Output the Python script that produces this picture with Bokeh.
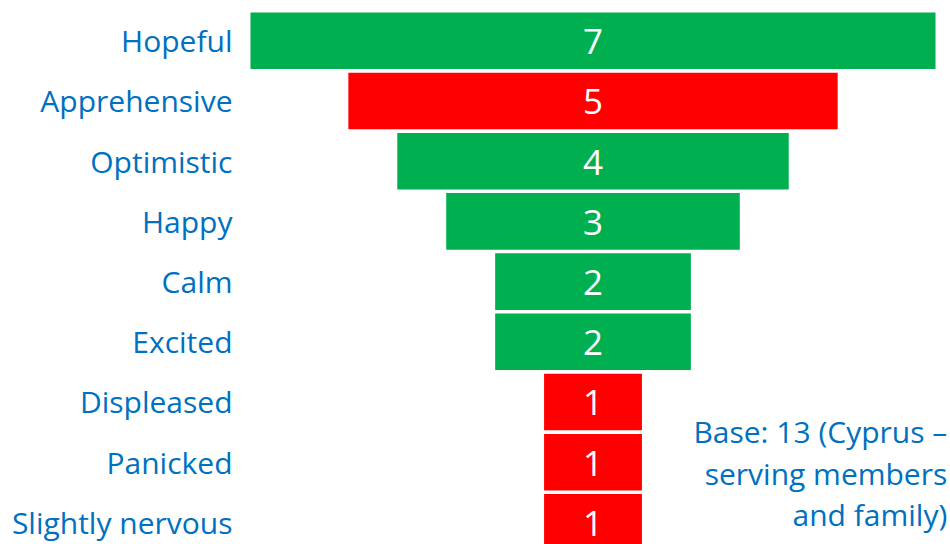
from bokeh.plotting import figure
from bokeh.models import ColumnDataSource, FixedTicker, Range1d
from bokeh.core.properties import value
from bokeh.embed import file_html
from bokeh.resources import INLINE

# ---- data ----
categories = ["Hopeful", "Apprehensive", "Optimistic", "Happy", "Calm",
              "Excited", "Displeased", "Panicked", "Slightly nervous"]
counts = [7, 5, 4, 3, 2, 2, 1, 1, 1]
tone = ["positive", "negative", "positive", "positive", "positive",
        "positive", "negative", "negative", "negative"]
note_lines = ["Base: 13 (Cyprus \u2013", "serving members", "and family)"]

# ---- styles ----
TONE_COLORS = {"positive": "#00B050", "negative": "#FF0000"}
BLUE = "#0070C0"
FONT = "Open Sans"

pos = list(range(len(categories)))
src = ColumnDataSource(dict(
    y=pos,
    left=[-c / 2 for c in counts],
    right=[c / 2 for c in counts],
    label=[str(c) for c in counts],
    zero=[0] * len(counts),
    color=[TONE_COLORS[t] for t in tone],
))

p = figure(width=950, height=544, output_backend="svg", toolbar_location=None,
           x_range=Range1d(-3.602, 3.653), y_range=Range1d(8.367, -0.669),
           x_axis_type=None, min_border_left=240, min_border_right=0,
           min_border_top=0, min_border_bottom=0)
p.outline_line_color = None
p.xgrid.visible = False
p.ygrid.visible = False
p.background_fill_color = "white"
p.border_fill_color = "white"

p.hbar(y="y", left="left", right="right", height=0.94, source=src,
       fill_color="color", line_color=None)
p.text(x="zero", y="y", text="label", source=src, text_color="white",
       text_font=value(FONT), text_font_size="35px", text_align="center",
       text_baseline="middle", y_offset=1)

ax = p.yaxis[0]
ax.ticker = FixedTicker(ticks=pos)
ax.major_label_overrides = {i: c for i, c in zip(pos, categories)}
ax.axis_line_color = None
ax.major_tick_line_color = None
ax.minor_tick_line_color = None
ax.major_tick_out = 0
ax.major_tick_in = 0
ax.major_label_standoff = 8
ax.major_label_text_color = BLUE
ax.major_label_text_font = FONT
ax.major_label_text_font_size = "30px"

nx = [3.62] * len(note_lines)
ny = [6.49 + k * 0.693 for k in range(len(note_lines))]
p.text(x=nx, y=ny, text=note_lines, text_color=BLUE, text_font=value(FONT),
       text_font_size="30px", text_align="right", text_baseline="alphabetic")

open("out.html", "w").write(file_html(p, INLINE))
